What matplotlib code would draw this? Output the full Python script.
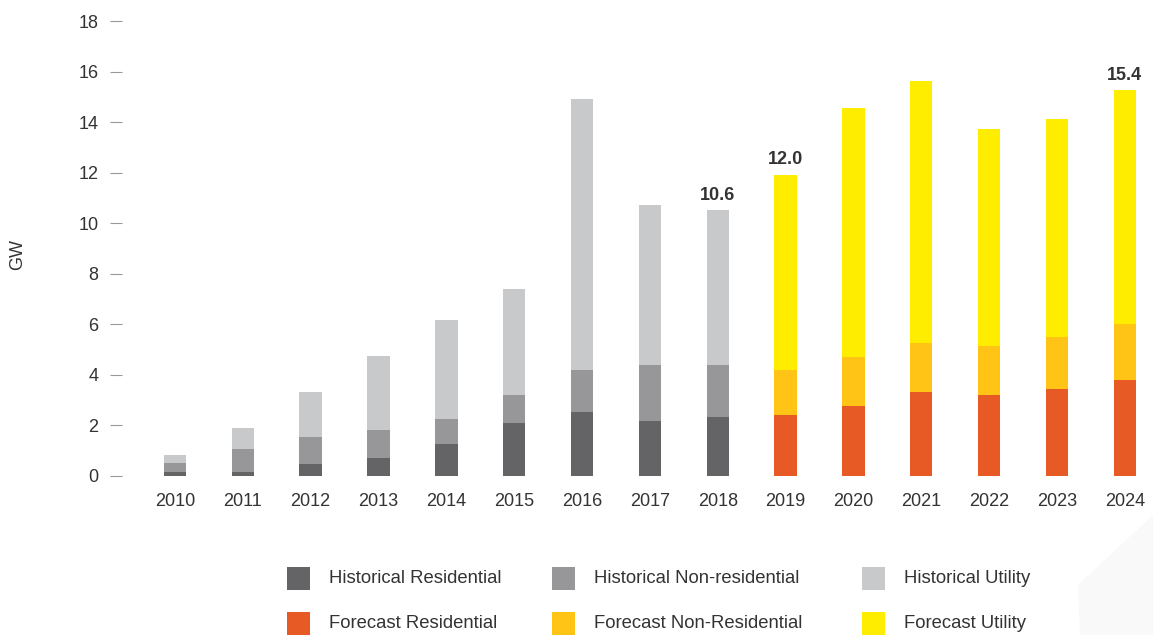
import numpy as np
import matplotlib
matplotlib.use('Agg')
from matplotlib import pyplot as plt
from matplotlib.patches import Rectangle, Polygon

plt.rcParams['font.family'] = ['Liberation Sans', 'DejaVu Sans']

years = [str(y) for y in range(2010, 2025)]
residential = [0.17, 0.17, 0.47, 0.70, 1.25, 2.08, 2.54, 2.19, 2.32,
               2.43, 2.78, 3.31, 3.19, 3.43, 3.80]
non_residential = [0.36, 0.88, 1.06, 1.12, 0.99, 1.11, 1.66, 2.19, 2.06,
                   1.77, 1.94, 1.96, 1.96, 2.08, 2.22]
utility = [0.30, 0.83, 1.79, 2.93, 3.93, 4.21, 10.70, 6.34, 6.14,
           7.72, 9.85, 10.37, 8.59, 8.60, 9.26]
is_forecast = [False] * 9 + [True] * 6

label_years = ['2018', '2019', '2024']
label_texts = ['10.6', '12.0', '15.4']

hist_colors = ['#646466', '#97979a', '#c8c9cb']
fcst_colors = ['#e85a25', '#ffc415', '#ffed00']
legend_names = [['Historical Residential', 'Historical Non-residential', 'Historical Utility'],
                ['Forecast Residential', 'Forecast Non-Residential', 'Forecast Utility']]

fig = plt.figure(figsize=(11.53, 6.35), dpi=100)
W, H = 1153, 635
ax = fig.add_axes([122 / W, 1 - 476 / H, 1030 / W, 455 / H])

x = np.arange(len(years))
res = np.array(residential)
non = np.array(non_residential)
utl = np.array(utility)
cols = [[fcst_colors[k] if f else hist_colors[k] for f in is_forecast] for k in range(3)]

ax.bar(x, res, width=0.33, color=cols[0])
ax.bar(x, non, width=0.33, bottom=res, color=cols[1])
ax.bar(x, utl, width=0.33, bottom=res + non, color=cols[2])

totals = res + non + utl
for yr, txt in zip(label_years, label_texts):
    i = years.index(yr)
    ax.annotate(txt, (x[i], totals[i]), xytext=(0, 4.5), textcoords='offset points',
                ha='center', va='bottom', fontsize=13, fontweight='bold', color='#333333')

ax.set_xlim(-0.78, 14.4)
ax.set_ylim(0, 18)
ax.set_yticks(range(0, 19, 2))
ax.set_xticks(x)
ax.set_xticklabels(years)
for s in ax.spines.values():
    s.set_visible(False)
ax.tick_params(axis='y', length=8.5, width=0.8, color='#999999', pad=8.5,
               labelsize=13, labelcolor='#333333')
ax.tick_params(axis='x', length=0, pad=12, labelsize=13, labelcolor='#333333')
fig.text(18 / W, 1 - 255 / H, 'GW', rotation=90, ha='center', va='center',
         fontsize=13, color='#333333')

# faint background shape bottom right
fig.patches.append(Polygon([(1078 / W, 1 - 585 / H), (1153 / W, 1 - 515 / H),
                            (1.0, 0.0), (1080 / W, 0.0)], closed=True,
                           transform=fig.transFigure, facecolor='#f9f9fa',
                           edgecolor='none', zorder=0))

# legend drawn by hand
col_x = [287, 552, 862]
row_y = [567, 612]
for r, colors in enumerate([hist_colors, fcst_colors]):
    for c in range(3):
        fig.patches.append(Rectangle((col_x[c] / W, 1 - (row_y[r] + 23) / H), 23 / W, 23 / H,
                                     transform=fig.transFigure, facecolor=colors[c],
                                     edgecolor='none'))
        fig.text((col_x[c] + 42) / W, 1 - (row_y[r] + 11.5) / H, legend_names[r][c],
                 ha='left', va='center', fontsize=13.3, color='#333333')

fig.savefig('out.png', dpi=100)
